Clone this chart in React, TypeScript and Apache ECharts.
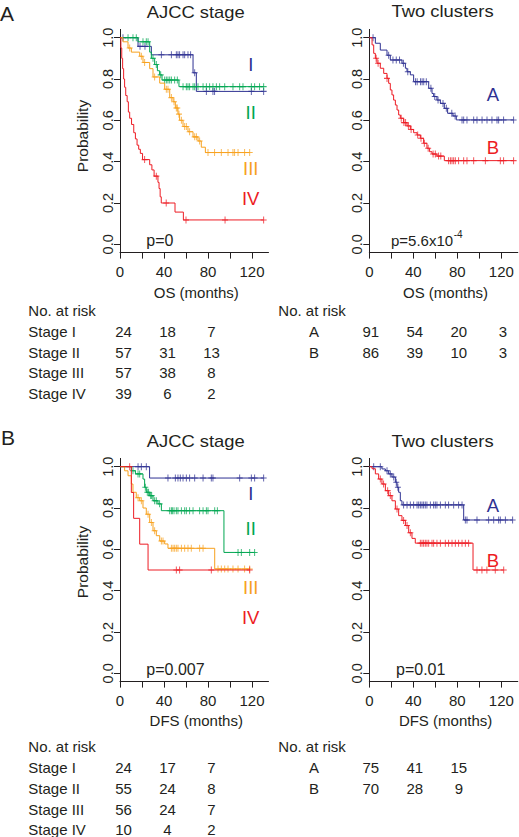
import React, { useEffect, useRef } from "react";
import * as echarts from "echarts";

// ---------- DATA ----------
const riskTimes = [0, 40, 80, 120];
const stageNames = ["Stage I", "Stage II", "Stage III", "Stage IV"];
const clusterNames = ["A", "B"];
const stageLabels = ["I", "II", "III", "IV"];

const osRiskStage = [[24, 18, 7], [57, 31, 13], [57, 38, 8], [39, 6, 2]];
const osRiskCluster = [[91, 54, 20, 3], [86, 39, 10, 3]];
const dfsRiskStage = [[24, 17, 7], [55, 24, 8], [56, 24, 7], [10, 4, 2]];
const dfsRiskCluster = [[75, 41, 15], [70, 28, 9]];

const xTicks = [0, 20, 40, 60, 80, 100, 120];
const xLabels = [0, 40, 80, 120];
const yTicks = [0, 0.2, 0.4, 0.6, 0.8, 1.0];

// OS - AJCC stage
const osStageI = [[0, 1], [16.4, 0.958], [28.5, 0.917], [66.4, 0.83], [69.4, 0.74], [130.6, 0.74]];
const osStageICens = [[2.7, 1], [18.2, 0.958], [22.7, 0.958], [37.6, 0.917], [46.7, 0.917], [51.2, 0.917], [52.7, 0.917], [54.2, 0.917], [57.3, 0.917], [58.8, 0.917], [61.8, 0.917], [64.2, 0.917], [67.9, 0.83], [78.5, 0.74], [84.5, 0.74], [86, 0.74], [119.4, 0.74], [130.6, 0.74]];
const osStageII = [[0, 1], [16.4, 0.98], [27, 0.93], [28.5, 0.9], [31.5, 0.87], [34, 0.84], [36, 0.82], [38.2, 0.795], [53.6, 0.763], [130.6, 0.763]];
const osStageIICens = [[7.3, 1], [11.8, 1], [14.8, 1], [20.9, 0.98], [23.9, 0.98], [25.5, 0.98], [30, 0.9], [33, 0.87], [37, 0.82], [40.6, 0.795], [42.1, 0.795], [43.6, 0.795], [45.2, 0.795], [46.7, 0.795], [49.7, 0.795], [52.1, 0.795], [57.3, 0.763], [60.3, 0.763], [61.8, 0.763], [63.3, 0.763], [66.4, 0.763], [67.9, 0.763], [70.9, 0.763], [75.5, 0.763], [78.5, 0.763], [81.5, 0.763], [84.5, 0.763], [87.6, 0.763], [90.6, 0.763], [95.2, 0.763], [102.7, 0.763], [108.8, 0.763], [111.8, 0.763], [119.4, 0.763], [122.4, 0.763], [126.9, 0.763], [130.6, 0.763]];
const osStageIII = [[0, 1], [2.7, 0.98], [7.3, 0.95], [10.3, 0.93], [17.9, 0.91], [20.9, 0.88], [27, 0.85], [30, 0.81], [36.1, 0.78], [40.6, 0.75], [45.2, 0.71], [48.2, 0.69], [50.3, 0.66], [52.7, 0.63], [54.2, 0.6], [57.3, 0.57], [61.8, 0.545], [66.4, 0.52], [70.9, 0.5], [73.9, 0.47], [77.6, 0.444], [117.9, 0.444]];
const osStageIIICens = [[8.8, 0.95], [19.4, 0.91], [22.4, 0.88], [31.5, 0.81], [42.1, 0.75], [43.6, 0.75], [46.7, 0.71], [49.1, 0.69], [51.2, 0.66], [52.1, 0.66], [53.6, 0.63], [55.8, 0.6], [58.8, 0.57], [60.3, 0.57], [63.3, 0.545], [67.9, 0.52], [69.4, 0.52], [72.4, 0.5], [80, 0.444], [86, 0.444], [92.1, 0.444], [98.2, 0.444], [102.7, 0.444], [104.2, 0.444], [107.3, 0.444], [113.3, 0.444], [117.9, 0.444]];
const osStageIV = [[0, 1], [0.8, 0.95], [1.6, 0.9], [2.4, 0.85], [3.3, 0.8], [4.2, 0.76], [5.2, 0.72], [6.5, 0.69], [7.6, 0.64], [8.8, 0.61], [10.5, 0.58], [12.5, 0.54], [14, 0.51], [15.5, 0.48], [17, 0.46], [18.5, 0.44], [20.5, 0.41], [27, 0.385], [29, 0.36], [31, 0.33], [34.5, 0.3], [35.5, 0.27], [36.5, 0.23], [37.5, 0.2], [50, 0.156], [57.6, 0.118], [130.6, 0.118]];
const osStageIVCens = [[22.4, 0.41], [33, 0.33], [42, 0.2], [60, 0.118], [95.5, 0.118], [130.6, 0.118]];

// OS - two clusters
const osClusterA = [[0, 1], [5.5, 0.973], [10, 0.94], [16.1, 0.915], [19.1, 0.892], [29.7, 0.876], [32.8, 0.852], [34.3, 0.835], [37.3, 0.82], [40.3, 0.787], [54, 0.755], [57, 0.73], [58.5, 0.715], [61.5, 0.698], [64.6, 0.682], [68.2, 0.658], [71.2, 0.634], [76.1, 0.621], [79.1, 0.602], [131.2, 0.602]];
const osClusterACens = [[3.4, 1], [17.6, 0.915], [21.5, 0.892], [24.5, 0.892], [27.5, 0.892], [31, 0.876], [35, 0.835], [42, 0.787], [43.5, 0.787], [46.5, 0.787], [48, 0.787], [49.5, 0.787], [51.8, 0.787], [56, 0.755], [59.5, 0.715], [62.5, 0.698], [67, 0.682], [70, 0.658], [75, 0.634], [78, 0.621], [84.3, 0.602], [85.8, 0.602], [88.8, 0.602], [94.9, 0.602], [97.9, 0.602], [102.5, 0.602], [107, 0.602], [111.5, 0.602], [116.1, 0.602], [117.6, 0.602], [122.1, 0.602], [131.2, 0.602]];
const osClusterB = [[0, 1], [2.5, 0.965], [4, 0.924], [5.5, 0.9], [7, 0.876], [10, 0.852], [13.1, 0.827], [16.1, 0.803], [17.6, 0.779], [19.1, 0.747], [20.6, 0.723], [22.1, 0.698], [23.7, 0.674], [25.2, 0.65], [26.7, 0.626], [28.2, 0.61], [31.2, 0.589], [34.3, 0.573], [37.3, 0.556], [40.3, 0.54], [43.4, 0.529], [46.4, 0.513], [49.4, 0.489], [52.4, 0.465], [54.8, 0.448], [57, 0.437], [61.5, 0.427], [68.2, 0.405], [131.2, 0.405]];
const osClusterBCens = [[6.2, 0.9], [8, 0.876], [16.1, 0.803], [29, 0.61], [31.5, 0.589], [33, 0.589], [35.5, 0.573], [38, 0.556], [44, 0.529], [47, 0.513], [50, 0.489], [53.5, 0.465], [58, 0.437], [60, 0.437], [63, 0.427], [65, 0.427], [72.1, 0.405], [73.7, 0.405], [75.2, 0.405], [76.7, 0.405], [78.2, 0.405], [81.2, 0.405], [85.8, 0.405], [88.8, 0.405], [94.9, 0.405], [105.5, 0.405], [119.1, 0.405], [122.1, 0.405], [131.2, 0.405]];

// DFS - AJCC stage
const dfsStageI = [[0, 1], [26.9, 0.945], [130.6, 0.945]];
const dfsStageICens = [[16.4, 1], [19.4, 1], [23.9, 1], [43.6, 0.945], [50.3, 0.945], [52.7, 0.945], [54.8, 0.945], [57.3, 0.945], [60.3, 0.945], [63.3, 0.945], [67.9, 0.945], [75.5, 0.945], [83, 0.945], [84.5, 0.945], [108.8, 0.945], [119.4, 0.945], [122.4, 0.945], [130.6, 0.945]];
const dfsStageII = [[0, 1], [10.3, 0.98], [14, 0.965], [20.9, 0.94], [22.4, 0.9], [23.9, 0.876], [27, 0.86], [30, 0.835], [34.5, 0.82], [37.6, 0.787], [94.5, 0.585], [122.4, 0.585]];
const dfsStageIICens = [[11.8, 0.98], [16.4, 0.965], [17.9, 0.965], [23, 0.9], [24.8, 0.876], [26, 0.876], [27.9, 0.86], [28.8, 0.86], [31.5, 0.835], [33, 0.835], [36, 0.82], [45.2, 0.787], [46.7, 0.787], [47.6, 0.787], [49.1, 0.787], [51.2, 0.787], [52.7, 0.787], [55.8, 0.787], [58.8, 0.787], [60.3, 0.787], [63.3, 0.787], [66.4, 0.787], [72.4, 0.787], [75.5, 0.787], [78.5, 0.787], [80, 0.787], [86.1, 0.787], [88.5, 0.787], [107.3, 0.585], [110.3, 0.585], [117.9, 0.585], [122.4, 0.585]];
const dfsStageIII = [[0, 1], [4.2, 0.98], [7.3, 0.956], [10.3, 0.916], [11.8, 0.876], [14.8, 0.85], [17.9, 0.835], [20.9, 0.8], [23.9, 0.77], [27, 0.73], [30, 0.69], [33, 0.666], [36.1, 0.64], [40.6, 0.626], [43.6, 0.605], [86.1, 0.505], [117.9, 0.505]];
const dfsStageIIICens = [[16.4, 0.85], [19.4, 0.835], [25.5, 0.77], [28.5, 0.73], [31.5, 0.69], [37.6, 0.64], [39.1, 0.64], [46.7, 0.605], [48.2, 0.605], [49.7, 0.605], [51.2, 0.605], [52.7, 0.605], [55.8, 0.605], [58.8, 0.605], [61.8, 0.605], [64.8, 0.605], [72.4, 0.605], [75.5, 0.605], [89.1, 0.505], [92.1, 0.505], [95.2, 0.505], [98.2, 0.505], [102.7, 0.505], [107.3, 0.505], [113.3, 0.505], [117.9, 0.505]];
const dfsStageIV = [[0, 1], [10.3, 0.875], [12.4, 0.75], [17.9, 0.625], [25.5, 0.5], [117.9, 0.5]];
const dfsStageIVCens = [[8.8, 1], [51.2, 0.5], [54.2, 0.5], [83, 0.5], [117.9, 0.5]];

// DFS - two clusters
const dfsClusterA = [[0, 1], [11.5, 0.989], [14.6, 0.98], [17.6, 0.965], [20.6, 0.95], [23.7, 0.925], [25.2, 0.9], [26.7, 0.876], [28.2, 0.835], [29.7, 0.815], [85.8, 0.742], [130.3, 0.742]];
const dfsClusterACens = [[4, 1], [10, 1], [16.1, 0.98], [19.1, 0.965], [22.2, 0.95], [24.5, 0.925], [26, 0.9], [31.2, 0.815], [34.3, 0.815], [37.3, 0.815], [40.3, 0.815], [43.4, 0.815], [44.9, 0.815], [46.4, 0.815], [47.9, 0.815], [49.4, 0.815], [50.9, 0.815], [52.4, 0.815], [55.5, 0.815], [58.5, 0.815], [60, 0.815], [61.5, 0.815], [64.6, 0.815], [69.1, 0.815], [72.1, 0.815], [76.7, 0.815], [81.2, 0.815], [84.3, 0.815], [87.3, 0.742], [88.8, 0.742], [97.9, 0.742], [108.5, 0.742], [113.1, 0.742], [117.6, 0.742], [119.1, 0.742], [123.7, 0.742], [130.3, 0.742]];
const dfsClusterB = [[0, 1], [2.5, 0.99], [5.5, 0.965], [8.5, 0.94], [11.5, 0.916], [14.6, 0.884], [17.6, 0.86], [20.6, 0.835], [23.7, 0.795], [26.7, 0.763], [29.7, 0.74], [32.8, 0.715], [35.8, 0.68], [38.8, 0.653], [41.8, 0.63], [94.3, 0.5], [122.2, 0.5]];
const dfsClusterBCens = [[10, 0.94], [13, 0.916], [16.7, 0.884], [19.1, 0.86], [25.2, 0.795], [31.2, 0.74], [34.3, 0.715], [37.3, 0.68], [46.4, 0.63], [47.9, 0.63], [49.4, 0.63], [50.9, 0.63], [52.4, 0.63], [54, 0.63], [57, 0.63], [58.5, 0.63], [61.5, 0.63], [64.6, 0.63], [69.1, 0.63], [72.1, 0.63], [75.2, 0.63], [78.2, 0.63], [81.2, 0.63], [84.3, 0.63], [87.3, 0.63], [90.3, 0.63], [97.9, 0.5], [102.4, 0.5], [106.9, 0.5], [114.5, 0.5], [122.2, 0.5]];

// ---------- STYLE / LAYOUT ----------
const BLUE = "#2E3192";
const GREEN = "#00A651";
const ORANGE = "#F7A11E";
const RED = "#ED1C24";
const INK = "#231F20";
const FONT = '"Liberation Sans", Arial, Helvetica, sans-serif';
const stageColors = [BLUE, GREEN, ORANGE, RED];
const clusterColors = [BLUE, RED];

const GRID_W = 148.5;
const GRID_H = 223.2;
const PX_PER_MONTH = GRID_W / 135;
const grids = [
  { left: 120, top: 29.4 },
  { left: 369.3, top: 29.4 },
  { left: 120, top: 458.4 },
  { left: 369.3, top: 458.4 },
];

function measure(text: string, size: number) {
  try {
    const ctx = document.createElement("canvas").getContext("2d");
    if (ctx) {
      ctx.font = `${size}px ${FONT}`;
      return ctx.measureText(text).width;
    }
  } catch (e) {}
  return text.length * size * 0.52;
}

function txt(x: number, y: number, text: string, size: number, extra: any = {}) {
  const { align = "left", fill = INK, ...rest } = extra;
  return {
    type: "text",
    x,
    y,
    silent: true,
    ...rest,
    style: { text, fill, fontSize: size, fontFamily: FONT, align, verticalAlign: "middle" },
  };
}

function buildOption() {
  const panels = [
    { curves: [osStageI, osStageII, osStageIII, osStageIV], cens: [osStageICens, osStageIICens, osStageIIICens, osStageIVCens], colors: stageColors },
    { curves: [osClusterA, osClusterB], cens: [osClusterACens, osClusterBCens], colors: clusterColors },
    { curves: [dfsStageI, dfsStageII, dfsStageIII, dfsStageIV], cens: [dfsStageICens, dfsStageIICens, dfsStageIIICens, dfsStageIVCens], colors: stageColors },
    { curves: [dfsClusterA, dfsClusterB], cens: [dfsClusterACens, dfsClusterBCens], colors: clusterColors },
  ];

  const series: any[] = [];
  panels.forEach((p, pi) => {
    p.curves.forEach((c, ci) => {
      series.push({
        type: "line",
        xAxisIndex: pi,
        yAxisIndex: pi,
        data: c,
        step: "end",
        symbol: "none",
        silent: true,
        z: 2 + ci,
        lineStyle: { color: p.colors[ci], width: 1 },
      });
      series.push({
        type: "scatter",
        xAxisIndex: pi,
        yAxisIndex: pi,
        data: p.cens[ci],
        symbol: "path://M5 0V10M0 5H10",
        symbolSize: [6, 7],
        silent: true,
        z: 2 + ci,
        itemStyle: { color: "transparent", borderColor: p.colors[ci], borderWidth: 1 },
      });
    });
  });

  const axisLine = { show: true, onZero: false, lineStyle: { color: INK, width: 1 } };
  const xAxis = grids.map((_, i) => ({
    type: "value",
    gridIndex: i,
    min: 0,
    max: 135,
    axisLine,
    splitLine: { show: false },
    axisTick: { show: true, length: 6, lineStyle: { color: INK }, customValues: xTicks },
    axisLabel: { customValues: xLabels, color: INK, fontSize: 15, fontFamily: FONT, margin: 11 },
  }));
  const yAxis = grids.map((_, i) => ({
    type: "value",
    gridIndex: i,
    min: -0.04,
    max: 1.04,
    axisLine,
    splitLine: { show: false },
    axisTick: { show: true, length: 6, lineStyle: { color: INK }, customValues: yTicks },
    axisLabel: {
      customValues: yTicks,
      rotate: 90,
      color: INK,
      fontSize: 14.5,
      fontFamily: FONT,
      margin: 5,
      formatter: (v: number) => v.toFixed(1),
    },
  }));

  const g: any[] = [];
  // panel letters
  g.push(txt(0, 13, "A", 21));
  g.push(txt(1, 437, "B", 21));
  // titles
  const titles = ["AJCC stage", "Two clusters", "AJCC stage", "Two clusters"];
  const titleY = [12, 11.5, 441.5, 441.5];
  titles.forEach((t, i) => {
    g.push(txt(grids[i].left + GRID_W / 2 + (i % 2 === 0 ? 1.5 : -1), titleY[i], t, 16, { align: "center", scaleX: 1.15 }));
  });
  // y names
  g.push(txt(82, 136, "Probability", 15.5, { align: "center", rotation: Math.PI / 2 }));
  g.push(txt(82, 562, "Probability", 15.5, { align: "center", rotation: Math.PI / 2 }));
  // x names
  const xNames = ["OS (months)", "OS (months)", "DFS (months)", "DFS (months)"];
  const xNameY = [292.5, 292.5, 720, 720];
  xNames.forEach((t, i) => g.push(txt(grids[i].left + GRID_W / 2 + 2, xNameY[i], t, 15, { align: "center" })));
  // p values
  g.push(txt(146.3, 240.5, "p=0", 16));
  const pMain = "p=5.6x10";
  const pSize = 15;
  g.push(txt(391, 240.5, pMain, pSize));
  g.push(txt(391 + measure(pMain, pSize) + 0.5, 234, "-4", 10));
  g.push(txt(146.3, 669.5, "p=0.007", 16));
  g.push(txt(396, 669.5, "p=0.01", 16));
  // curve labels
  const stageLabelY = [[64, 112.5, 168, 198.5], [493, 528, 587.5, 617.5]];
  stageLabelY.forEach((ys) => ys.forEach((y, k) => g.push(txt(250.7, y, stageLabels[k], 18.5, { align: "center", fill: stageColors[k] }))));
  const clusterLabelY = [[94, 147.5], [505, 560]];
  clusterLabelY.forEach((ys) => ys.forEach((y, k) => g.push(txt(493, y, clusterNames[k], 18.5, { align: "center", fill: clusterColors[k] }))));

  // risk tables
  const colX = (panel: number, t: number, off: number) => grids[panel].left + t * PX_PER_MONTH + off;
  const tables = [
    { panel: 0, y0: 310, names: stageNames, rows: osRiskStage },
    { panel: 1, y0: 310.5, names: clusterNames, rows: osRiskCluster },
    { panel: 2, y0: 746.5, names: stageNames, rows: dfsRiskStage },
    { panel: 3, y0: 746.5, names: clusterNames, rows: dfsRiskCluster },
  ];
  tables.forEach((tb) => {
    const left = tb.panel % 2 === 0;
    g.push(txt(left ? 28.3 : 278.3, tb.y0, "No. at risk", 15));
    tb.rows.forEach((row, r) => {
      const y = tb.y0 + 21.3 + r * 20.7;
      if (left) g.push(txt(28.3, y, tb.names[r], 15));
      else g.push(txt(314, y, tb.names[r], 15, { align: "center" }));
      row.forEach((v, c) => {
        g.push(txt(colX(tb.panel, riskTimes[c], left ? 3.5 : 1.5), y, String(v), 15, { align: "center" }));
      });
    });
  });

  return {
    animation: false,
    backgroundColor: "#ffffff",
    grid: grids.map((gr) => ({ left: gr.left, top: gr.top, width: GRID_W, height: GRID_H })),
    xAxis,
    yAxis,
    series,
    graphic: { elements: g },
  };
}

export default function App() {
  const ref = useRef<HTMLDivElement>(null);
  useEffect(() => {
    document.body.style.margin = "0";
    if (!ref.current) return;
    const chart = echarts.init(ref.current, null, { renderer: "svg" });
    chart.setOption(buildOption() as any);
    return () => chart.dispose();
  }, []);
  return <div ref={ref} style={{ width: 519, height: 837 }} />;
}
